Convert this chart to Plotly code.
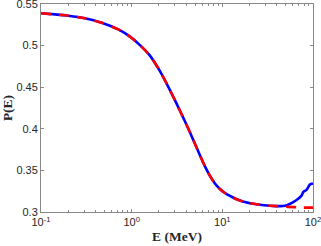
import plotly.graph_objects as go

# Energy (MeV) and probability values
E_blue = [0.1, 0.1427, 0.2, 0.3055, 0.467, 0.7115, 0.958, 1.234, 1.591, 2.051, 2.645, 3.408,
          4.393, 4.988, 5.662, 6.43, 7.3, 8.287, 9.409, 10.68, 12.13, 13.77, 15.63, 17.75,
          20.16, 25.97, 33.48, 39.99, 46.58, 51.55, 60.5, 68.67, 74.85, 77.98, 85.02, 92.43, 100]
P_blue = [0.5388, 0.5375, 0.5359, 0.5328, 0.5275, 0.5195, 0.5108, 0.5006, 0.4880, 0.4693,
          0.4464, 0.4217, 0.3958, 0.3819, 0.3681, 0.3548, 0.3434, 0.3343, 0.3277, 0.3229,
          0.3193, 0.3163, 0.3139, 0.3119, 0.3105, 0.3087, 0.3076, 0.3071, 0.3073, 0.3082,
          0.3118, 0.3159, 0.3199, 0.3239, 0.3267, 0.3331, 0.3343]

E_red = [0.1, 0.1427, 0.2, 0.3055, 0.467, 0.7115, 0.958, 1.234, 1.591, 2.051, 2.645, 3.408,
         4.393, 4.988, 5.662, 6.43, 7.3, 8.287, 9.409, 10.68, 12.13, 13.77, 15.63, 17.75,
         20.16, 25.97, 33.48, 39.99, 46.58, 60.5, 77.0, 100]
P_red = [0.5388, 0.5375, 0.5359, 0.5328, 0.5275, 0.5195, 0.5108, 0.5006, 0.4880, 0.4693,
         0.4464, 0.4217, 0.3958, 0.3819, 0.3681, 0.3548, 0.3434, 0.3343, 0.3277, 0.3229,
         0.3193, 0.3163, 0.3139, 0.3119, 0.3105, 0.3087, 0.3076, 0.3071, 0.3066, 0.3058,
         0.3053, 0.3052]

x_ticks = [0.1, 1, 10, 100]
x_ticktext = ["10<sup>-1</sup>", "10<sup>0</sup>", "10<sup>1</sup>", "10<sup>2</sup>"]
y_ticks = [0.3, 0.35, 0.4, 0.45, 0.5, 0.55]
y_ticktext = ["0.3", "0.35", "0.4", "0.45", "0.5", "0.55"]
minor_x = [m * d for d in [0.1, 1, 10] for m in range(2, 10)]

fig = go.Figure()
fig.add_trace(go.Scatter(x=E_blue, y=P_blue, mode="lines",
                         line=dict(color="#0000ff", width=2.6, shape="spline", smoothing=0.6),
                         showlegend=False))
fig.add_trace(go.Scatter(x=E_red, y=P_red, mode="lines",
                         line=dict(color="#ff0000", width=2.6, dash="10px,8px",
                                   shape="spline", smoothing=0.6),
                         showlegend=False))

axis_common = dict(showline=True, linecolor="#888888", linewidth=1, mirror="ticks",
                   ticks="inside", tickcolor="#888888", ticklen=3, showgrid=False,
                   zeroline=False, ticklabeloverflow="allow",
                   tickfont=dict(family="Liberation Sans, Arial", size=11, color="#262626"))

fig.update_xaxes(type="log", range=[-1, 2], tickvals=x_ticks, ticktext=x_ticktext,
                 minor=dict(tickvals=minor_x, ticks="inside", ticklen=2, tickcolor="#888888",
                            showgrid=False),
                 title=dict(text="<b>E (MeV)</b>", standoff=4,
                            font=dict(family="Liberation Serif, Times New Roman", size=13.5,
                                      color="#262626")),
                 **axis_common)
fig.update_yaxes(range=[0.3, 0.55], tickvals=y_ticks, ticktext=y_ticktext,
                 title=dict(text="<b>P(E)</b>", standoff=5,
                            font=dict(family="Liberation Serif, Times New Roman", size=13.5,
                                      color="#262626")),
                 **axis_common)

fig.update_layout(width=321, height=246, margin=dict(l=41, r=8, t=4, b=34, autoexpand=False),
                  plot_bgcolor="white", paper_bgcolor="white")

fig.write_html("out.html", config={"displayModeBar": False},
               post_script="document.body.style.margin='0';")
